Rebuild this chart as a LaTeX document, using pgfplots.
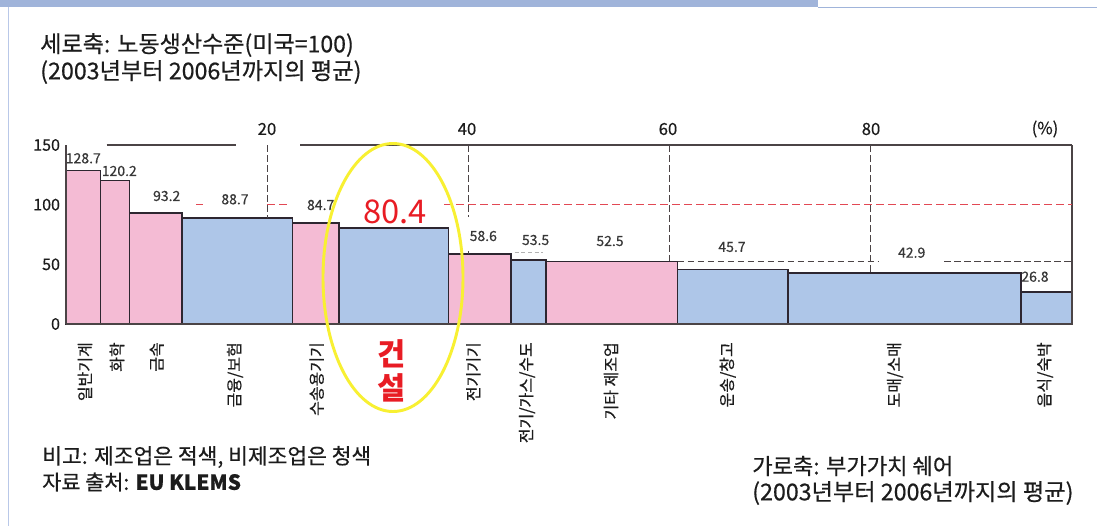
\documentclass[border=0pt]{standalone}
\usepackage{pgfplots}
\pgfplotsset{compat=1.18}
\usepackage{fontspec}
\setmainfont{Noto Sans CJK KR}
\newfontfamily\mfont[FakeBold=0.5]{Noto Sans CJK KR}
\definecolor{pinkbar}{RGB}{244,187,212}
\definecolor{bluebar}{RGB}{174,198,232}
\definecolor{barline}{RGB}{45,38,48}
\definecolor{refred}{RGB}{226,72,84}
\definecolor{bigred}{RGB}{232,28,36}
\definecolor{txt}{RGB}{28,28,28}
\definecolor{vtxt}{RGB}{55,55,55}
\definecolor{hdr}{RGB}{160,180,218}
\definecolor{hdrl}{RGB}{185,200,232}
\definecolor{dashc}{RGB}{75,68,70}
\definecolor{ellc}{RGB}{248,240,50}
\newcommand{\bbar}[4]{\addplot[ybar interval, fill=#4, draw=barline, line width=1.1pt] coordinates {(#1,#3) (#2,#3)};}
\begin{document}
\begin{tikzpicture}
% pixel frame (1 px = 0.75pt), origin of axis at pixel (66,324)
\begin{scope}[x=0.75pt, y=-0.75pt, xshift=-49.5pt, yshift=243pt]
\fill[white] (0,0) rectangle (1097,526);
\fill[hdr] (0,0) rectangle (818,7);
\draw[hdr, line width=0.8pt] (818,7.5) -- (1097,7.5);
\draw[hdrl, line width=1.3pt] (8.5,7) -- (8.5,526);
\end{scope}
\begin{axis}[at={(0,0)}, anchor=south west, scale only axis,
  width=754.5pt, height=134.25pt,
  xmin=0, xmax=100, ymin=0, ymax=150,
  axis line style={draw=none},
  xtick=\empty, ytick={0,50,100,150},
  major tick length=0pt,
  yticklabel style={font=\mfont\fontsize{12}{12}\selectfont, text=txt, xshift=-1pt},
  /pgf/number format/assume math mode=true,
  clip=false]
% bars: x from, x to, height (labour productivity, US=100), colour
\bbar{0}{3.45}{128.7}{pinkbar}
\bbar{3.45}{6.29}{120.2}{pinkbar}
\bbar{6.29}{11.53}{93.2}{pinkbar}
\bbar{11.53}{22.53}{88.7}{bluebar}
\bbar{22.53}{27.16}{84.7}{pinkbar}
\bbar{27.16}{38.02}{80.4}{bluebar}
\bbar{38.02}{44.23}{58.6}{pinkbar}
\bbar{44.23}{47.71}{53.5}{bluebar}
\bbar{47.71}{60.79}{52.5}{pinkbar}
\bbar{60.79}{71.75}{45.7}{bluebar}
\bbar{71.75}{94.93}{42.9}{bluebar}
\bbar{94.93}{100}{26.8}{bluebar}
% frame
\draw[dashc, line width=1.1pt] (axis cs:0,0) -- (axis cs:0,150);
\draw[dashc, line width=1.1pt] (axis cs:0,0) -- (axis cs:100,0) -- (axis cs:100,150);
\draw[dashc, line width=1.1pt] (axis cs:4.04,150) -- (axis cs:16.9,150);
\draw[dashc, line width=1.1pt] (axis cs:23.3,150) -- (axis cs:100,150);
% dashed guides
\addplot[dashc, line width=1pt, dash pattern=on 5pt off 2.5pt] coordinates {(20,150) (20,88.7)};
\addplot[dashc, line width=1pt, dash pattern=on 5pt off 2.5pt] coordinates {(40,150) (40,90)};
\addplot[dashc, line width=1pt] coordinates {(40,58.6) (40,61.5)};
\addplot[dashc, line width=1pt, dash pattern=on 5pt off 2.5pt] coordinates {(60,150) (60,52.5)};
\addplot[dashc, line width=1pt, dash pattern=on 5pt off 2.5pt] coordinates {(80,150) (80,42.9)};
\addplot[dashc, line width=1pt, dash pattern=on 5pt off 2.5pt] coordinates {(60.79,52.5) (80.8,52.5)};
\addplot[dashc, line width=1pt, dash pattern=on 5pt off 2.5pt] coordinates {(87.3,52.5) (100,52.5)};
\addplot[black!30, line width=0.8pt, dash pattern=on 3pt off 2pt] coordinates {(44.6,59.8) (47.4,59.8)};
% red reference line at 100
\addplot[refred, line width=1.1pt, dash pattern=on 6pt off 3pt] coordinates {(12.95,100) (13.6,100)};
\addplot[refred, line width=1.1pt, dash pattern=on 6pt off 3pt] coordinates {(19.98,100) (22.2,100)};
\addplot[refred, line width=1.1pt, dash pattern=on 6pt off 3pt] coordinates {(37.6,100) (100,100)};
\end{axis}
\begin{scope}[x=0.75pt, y=-0.75pt, xshift=-49.5pt, yshift=243pt]
% top axis labels
\foreach \xx/\tt in {267/20, 467/40, 668/60, 871/80, 1045/(\%)}
  \node[font=\mfont\fontsize{12.5}{12.5}\selectfont, text=txt] at (\xx,129) {\tt};
% value labels
\begin{scope}[every node/.style={font=\mfont\fontsize{10.5}{10.5}\selectfont, text=vtxt, inner sep=1pt}]
\node at (83.3,158.3) {128.7};
\node at (119.3,171) {120.2};
\node[fill=white] at (166.7,196) {93.2};
\node[fill=white] at (235,199.3) {88.7};
\node at (320.7,205) {84.7};
\node at (483.3,236) {58.6};
\node at (535.6,240) {53.5};
\node at (610,241) {52.5};
\node at (732,247) {45.7};
\node at (911.7,252.7) {42.9};
\node at (1035,276.7) {26.8};
\end{scope}
\node[font=\fontsize{24.5}{24.5}\selectfont, text=bigred] at (395,211.7) {80.4};
% ellipse
\draw[ellc, line width=2.2pt] (393,277.5) ellipse [x radius=70, y radius=134];
\node[font=\bfseries\fontsize{23}{25}\selectfont, text=bigred, align=center] at (392,371) {건\\설};
% category labels
\begin{scope}[every node/.style={rotate=90, anchor=east, font=\mfont\fontsize{12}{12}\selectfont, text=txt, inner sep=0pt}]
\node at (85,342) {일반기계};
\node at (117,342) {화학};
\node at (156.7,342) {금속};
\node at (235,342) {금융/보험};
\node at (316.7,342) {수송용기기};
\node at (473.3,342) {전기기기};
\node at (527,342) {전기/가스/수도};
\node at (611,342) {기타 제조업};
\node at (727.7,342) {운송/창고};
\node at (895,342) {도매/소매};
\node at (1045,342) {음식/숙박};
\end{scope}
% annotations
\begin{scope}[every node/.style={anchor=west, text=txt, inner sep=0pt}]
\node[font=\mfont\fontsize{17.3}{17.3}\selectfont] at (40,45) {세로축: 노동생산수준(미국=100)};
\node[font=\mfont\fontsize{17.4}{17.4}\selectfont] at (40,72) {(2003년부터 2006년까지의 평균)};
\node[font=\mfont\fontsize{16.1}{16.1}\selectfont] at (42,457) {비고: 제조업은 적색, 비제조업은 청색};
\node[font=\mfont\fontsize{15.6}{15.6}\selectfont] at (42,482) {자료 출처: {\bfseries EU KLEMS}};
\node[font=\mfont\fontsize{16.6}{16.6}\selectfont] at (752,466) {가로축: 부가가치 쉐어};
\node[font=\mfont\fontsize{17.4}{17.4}\selectfont] at (752,493) {(2003년부터 2006년까지의 평균)};
\end{scope}
\pgfresetboundingbox
\path (0,0) rectangle (1097,526);
\end{scope}
\end{tikzpicture}
\end{document}
